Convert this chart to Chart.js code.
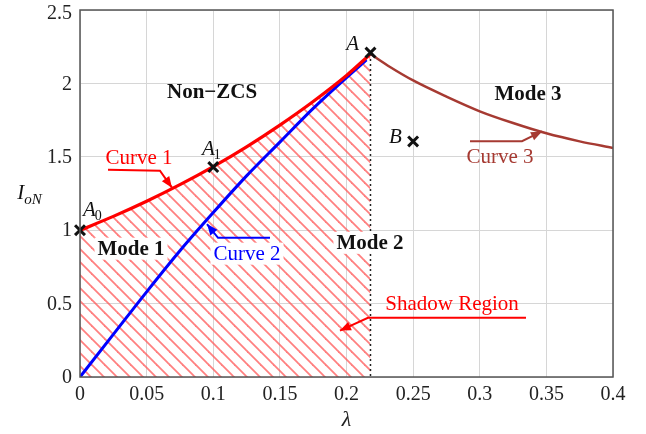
<!DOCTYPE html>
<html>
<head>
<meta charset="utf-8">
<script src="https://cdn.jsdelivr.net/npm/chart.js@4/dist/chart.umd.min.js"></script>
<style>
html,body{margin:0;padding:0;background:#fff;}
canvas{display:block;}
</style>
</head>
<body>
<canvas id="c" width="646" height="434"></canvas>
<script>
// ---- data ----
const xTickValues = [0, 0.05, 0.1, 0.15, 0.2, 0.25, 0.3, 0.35, 0.4];
const yTickValues = [0, 0.5, 1, 1.5, 2, 2.5];

const curve1Lambda = [0, 0.025, 0.05, 0.075, 0.1, 0.125, 0.15, 0.175, 0.2, 0.218];
const curve1Ion    = [1, 1.094, 1.197, 1.31, 1.433, 1.568, 1.716, 1.877, 2.054, 2.2];

const curve2Lambda = [0, 0.025, 0.05, 0.075, 0.1, 0.125, 0.15, 0.175, 0.2, 0.215];
const curve2Ion    = [0, 0.29, 0.58, 0.86, 1.12, 1.37, 1.60, 1.83, 2.04, 2.16];

const curve3Lambda = [0.218, 0.233, 0.25, 0.275, 0.3, 0.325, 0.35, 0.375, 0.4];
const curve3Ion    = [2.2, 2.11, 2.02, 1.91, 1.81, 1.73, 1.66, 1.605, 1.56];

const boundaryLambda = [0.218, 0.218];
const boundaryIon    = [2.2, 0];

const pointNames  = ['A0', 'A1', 'A', 'B'];
const pointLambda = [0, 0.1, 0.218, 0.25];
const pointIon    = [1, 1.43, 2.21, 1.605];

const toXY = (xs, ys) => xs.map((x, i) => ({x: x, y: ys[i]}));

// ---- hatch pattern ----
function makeHatch() {
  const s = 13;
  const t = document.createElement('canvas');
  t.width = s; t.height = s;
  const g = t.getContext('2d');
  g.strokeStyle = 'rgba(255,95,95,0.8)';
  g.lineWidth = 1.8;
  for (const x0 of [-s, 0, s]) {
    g.beginPath();
    g.moveTo(x0 - 1, -1);
    g.lineTo(x0 + s + 1, s + 1);
    g.stroke();
  }
  return g.createPattern(t, 'repeat');
}

const SERIF = "'Liberation Serif', 'Times New Roman', serif";
const RED = '#ff0000', BLUE = '#0000ff', BROWN = '#a63a32';

// annotations (positions in data units)
const texts = [
  {t: 'Non\u2212ZCS', x: 0.0991, y: 1.942, bold: true, color: '#111'},
  {t: 'Mode 3', x: 0.3362, y: 1.929, bold: true, color: '#111'},
  {t: 'Mode 1', x: 0.0383, y: 0.874, bold: true, color: '#111', bg: true},
  {t: 'Mode 2', x: 0.2176, y: 0.914, bold: true, color: '#111', bg: true},
  {t: 'Curve 1', x: 0.0443, y: 1.492, color: RED},
  {t: 'Curve 2', x: 0.1253, y: 0.840, color: BLUE, bg: true},
  {t: 'Curve 3', x: 0.3152, y: 1.505, color: BROWN},
  {t: 'Shadow Region', x: 0.2792, y: 0.504, color: RED}
];
const arrows = [
  {color: RED,   pts: [[0.021, 1.411], [0.060, 1.405], [0.069, 1.290]]},
  {color: BLUE,  pts: [[0.1426, 0.948], [0.1036, 0.948], [0.0953, 1.042]]},
  {color: BROWN, pts: [[0.2927, 1.606], [0.3317, 1.606], [0.3467, 1.673]]},
  {color: RED,   pts: [[0.3347, 0.403], [0.2161, 0.403], [0.1951, 0.316]]}
];
const pointLabels = [
  {main: 'A', sub: '0', x: 0.0075, y: 1.142},
  {main: 'A', sub: '1', x: 0.0968, y: 1.560},
  {main: 'A', sub: '',  x: 0.2050, y: 2.275},
  {main: 'B', sub: '',  x: 0.2371, y: 1.640}
];

const decor = {
  id: 'decor',
  afterDatasetsDraw(chart) {
    const ctx = chart.ctx, xs = chart.scales.x, ys = chart.scales.y, a = chart.chartArea;
    const X = v => xs.getPixelForValue(v), Y = v => ys.getPixelForValue(v);
    ctx.save();
    // frame
    ctx.strokeStyle = '#555';
    ctx.lineWidth = 1.5;
    ctx.strokeRect(a.left, a.top, a.right - a.left, a.bottom - a.top);

    // y tick labels from the scale's ticks
    ctx.font = '20px ' + SERIF;
    ctx.fillStyle = '#222';
    ctx.textAlign = 'right';
    ctx.textBaseline = 'middle';
    ys.ticks.forEach(tk => {
      let py = Y(tk.value);
      py = Math.max(py, 13);
      ctx.fillText(String(tk.value), a.left - 8, py + 1);
    });

    // arrows
    arrows.forEach(ar => {
      ctx.strokeStyle = ar.color;
      ctx.fillStyle = ar.color;
      ctx.lineWidth = 2;
      const p = ar.pts.map(q => [X(q[0]), Y(q[1])]);
      ctx.beginPath();
      ctx.moveTo(p[0][0], p[0][1]);
      for (let i = 1; i < p.length; i++) ctx.lineTo(p[i][0], p[i][1]);
      ctx.stroke();
      const [x1, y1] = p[p.length - 2], [x2, y2] = p[p.length - 1];
      const ang = Math.atan2(y2 - y1, x2 - x1);
      const L = 11, W = 4.5;
      ctx.beginPath();
      ctx.moveTo(x2, y2);
      ctx.lineTo(x2 - L * Math.cos(ang) + W * Math.sin(ang), y2 - L * Math.sin(ang) - W * Math.cos(ang));
      ctx.lineTo(x2 - L * Math.cos(ang) - W * Math.sin(ang), y2 - L * Math.sin(ang) + W * Math.cos(ang));
      ctx.closePath();
      ctx.fill();
    });

    // texts
    ctx.textAlign = 'center';
    ctx.textBaseline = 'middle';
    texts.forEach(tx => {
      ctx.font = (tx.bold ? 'bold ' : '') + '21px ' + SERIF;
      const px = X(tx.x), py = Y(tx.y);
      if (tx.bg) {
        const w = ctx.measureText(tx.t).width;
        ctx.fillStyle = '#fff';
        ctx.fillRect(px - w / 2 - 3, py - 11, w + 6, 22);
      }
      ctx.fillStyle = tx.color;
      ctx.fillText(tx.t, px, py + 1);
    });

    // point labels (italic with subscripts)
    ctx.textAlign = 'left';
    ctx.textBaseline = 'alphabetic';
    ctx.fillStyle = '#111';
    pointLabels.forEach(pl => {
      const px = X(pl.x) - 7, py = Y(pl.y) + 7;
      ctx.font = 'italic 21px ' + SERIF;
      ctx.fillText(pl.main, px, py);
      const w = ctx.measureText(pl.main).width;
      if (pl.sub) {
        ctx.font = '14px ' + SERIF;
        ctx.fillText(pl.sub, px + w - 1, py + 4);
      }
    });

    // y-axis title I_oN
    const tx = X(-0.041), ty = Y(1.257) + 7;
    ctx.font = 'italic 21px ' + SERIF;
    ctx.fillText('I', tx - 8, ty);
    ctx.font = 'italic 15px ' + SERIF;
    ctx.fillText('oN', tx - 1, ty + 5);
    ctx.restore();
  }
};

const hatch = makeHatch();

new Chart(document.getElementById('c'), {
  type: 'scatter',
  data: {
    datasets: [
      {label: 'points', data: toXY(pointLambda, pointIon), showLine: false,
       pointStyle: 'crossRot', pointRadius: 7, pointBorderWidth: 3,
       borderColor: '#111', backgroundColor: '#111', order: 0, clip: false},
      {label: 'Curve 1', data: toXY(curve1Lambda, curve1Ion), showLine: true,
       borderColor: RED, borderWidth: 3.2, pointRadius: 0, cubicInterpolationMode: 'monotone',
       fill: 'origin', backgroundColor: hatch, order: 2},
      {label: 'Curve 2', data: toXY(curve2Lambda, curve2Ion), showLine: true,
       borderColor: BLUE, borderWidth: 3, pointRadius: 0, cubicInterpolationMode: 'monotone',
       fill: false, order: 3},
      {label: 'Curve 3', data: toXY(curve3Lambda, curve3Ion), showLine: true,
       borderColor: BROWN, borderWidth: 2.5, pointRadius: 0, cubicInterpolationMode: 'monotone',
       fill: false, order: 1},
      {label: 'boundary', data: toXY(boundaryLambda, boundaryIon), showLine: true,
       borderColor: '#222', borderWidth: 1.5, borderDash: [2, 3], pointRadius: 0,
       fill: false, order: 1}
    ]
  },
  options: {
    responsive: false,
    animation: false,
    events: [],
    layout: {padding: {top: 5, right: 33, left: 0, bottom: 0}},
    plugins: {
      legend: {display: false},
      tooltip: {enabled: false},
      filler: {drawTime: 'beforeDatasetsDraw'}
    },
    scales: {
      x: {
        type: 'linear', min: 0, max: 0.4,
        afterBuildTicks: s => { s.ticks = xTickValues.map(v => ({value: v})); },
        afterFit: s => { s.height = 57; s.paddingLeft = 0; s.paddingRight = 0; s.paddingTop = 0; s.paddingBottom = 0; },
        grid: {color: '#d6d6d6', lineWidth: 1, drawTicks: false},
        border: {display: false},
        ticks: {font: {family: SERIF, size: 20}, color: '#222', padding: 6, maxRotation: 0,
                callback: v => String(v)},
        title: {display: true, text: '\u03bb', font: {family: SERIF, size: 22, style: 'italic'},
                color: '#222', padding: {top: 0, bottom: 1}}
      },
      y: {
        type: 'linear', min: 0, max: 2.5,
        afterBuildTicks: s => { s.ticks = yTickValues.map(v => ({value: v})); },
        afterFit: s => { s.width = 80; s.paddingLeft = 0; s.paddingRight = 0; s.paddingTop = 0; s.paddingBottom = 0; },
        grid: {color: '#d6d6d6', lineWidth: 1, drawTicks: false},
        border: {display: false},
        ticks: {display: false}
      }
    }
  },
  plugins: [decor]
});
</script>
</body>
</html>
